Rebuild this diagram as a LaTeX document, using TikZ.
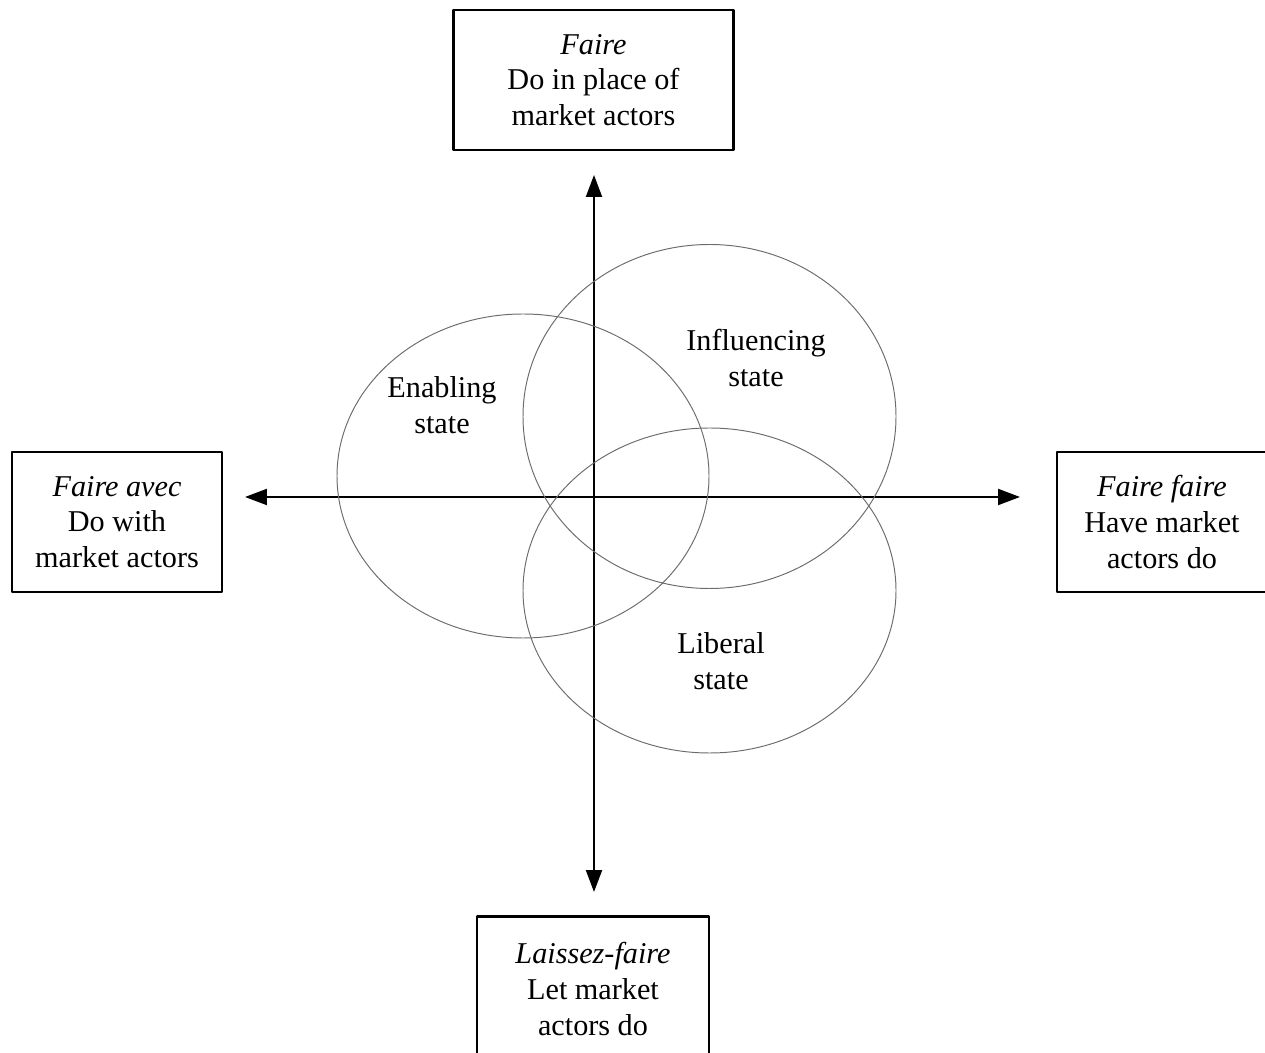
\documentclass[tikz,border=0pt]{standalone}
\usepackage{fontspec}
\setmainfont{Liberation Serif}
\usepackage{tikz}
\usetikzlibrary{arrows.meta}

\begin{document}
\begin{tikzpicture}[line cap=round,line join=round,>={Triangle[length=0.44cm,width=0.32cm]},x=0.02cm,y=-0.02cm,
  every node/.style={font=\fontsize{17.2}{20.4}\selectfont},
  laatikko/.style={draw,line width=1.2pt,align=center,inner sep=0pt,minimum height=2.8cm},
  ellipsi/.style={color=gray!85!black,line width=0.55pt}]
\useasboundingbox (0,0) rectangle (1265,1053);

%laatikot
\node [laatikko,minimum width=5.6cm] (faire) at (593.5,80) {\textit{Faire}\\Do in place of\\market actors};
\node [laatikko,minimum width=4.2cm] (avec) at (117,522) {\textit{Faire avec}\\Do with\\market actors};
\node [laatikko,minimum width=4.2cm] (fairefaire) at (1162,522) {\textit{Faire faire}\\Have market\\actors do};
\node [laatikko,minimum width=4.64cm,minimum height=2.9cm] (laissez) at (593,989) {\textit{Laissez-faire}\\Let market\\actors do};

%akselit
\coordinate (o) at (594,497);
\coordinate (ylos) at (594,175);
\coordinate (alas) at (594,892);
\coordinate (vasen) at (245,497);
\coordinate (oikea) at (1020,497);
\draw [<->,line width=1.2pt] (vasen) -- (oikea);
\draw [<->,line width=1.2pt] (alas) -- (ylos);

%ellipsit
\draw [ellipsi] (523,476) ellipse [x radius=186, y radius=162];
\draw [ellipsi] (709.5,416.5) ellipse [x radius=186.5, y radius=172];
\draw [ellipsi] (709.5,590.5) ellipse [x radius=186.5, y radius=162.5];

\node [align=center] (enabling) at (442,405) {Enabling\\state};
\node [align=center] (influencing) at (756,358) {Influencing\\state};
\node [align=center] (liberal) at (721,661) {Liberal\\state};
\end{tikzpicture}
\end{document}
